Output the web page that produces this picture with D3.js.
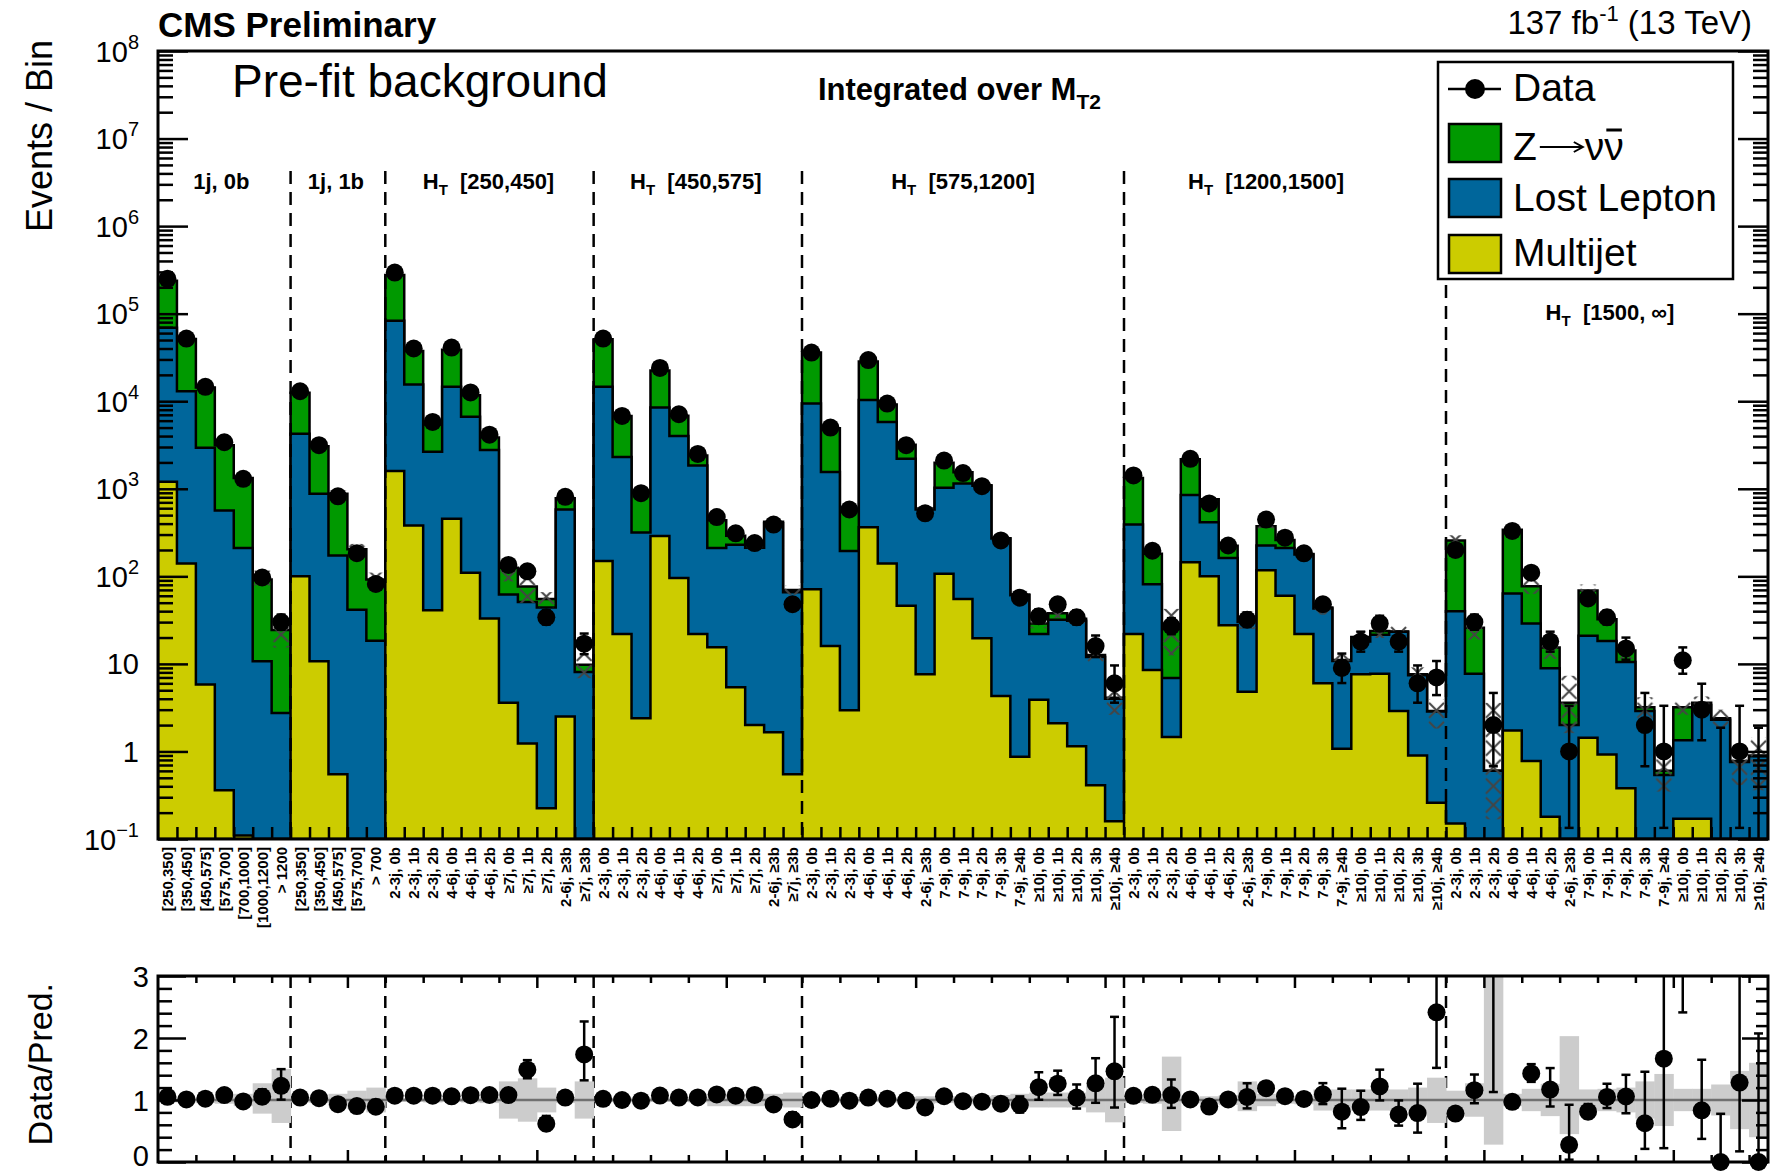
<!DOCTYPE html>
<html>
<head>
<meta charset="utf-8">
<script src="https://cdn.jsdelivr.net/npm/d3@7"></script>
<style>
  html, body { margin: 0; padding: 0; background: #fff; }
  svg { display: block; }
  text { font-family: "Liberation Sans", Arial, Helvetica, sans-serif; fill: #000; }
</style>
</head>
<body>
<svg id="chart" width="1777" height="1174"></svg>
<script>
// ---------------- search regions ----------------
const groupTitles = ["1j, 0b", "1j, 1b", "[250,450]", "[450,575]", "[575,1200]", "[1200,1500]", "[1500, \u221e]"];
const groupHasHT  = [false, false, true, true, true, true, true];
const groupSizes  = [7, 5, 11, 11, 17, 17, 17];

const monojetLabels0b = ["[250,350]", "[350,450]", "[450,575]", "[575,700]", "[700,1000]", "[1000,1200]", "> 1200"];
const monojetLabels1b = ["[250,350]", "[350,450]", "[450,575]", "[575,700]", "> 700"];
const lowHTLabels = ["2-3j, 0b", "2-3j, 1b", "2-3j, 2b", "4-6j, 0b", "4-6j, 1b", "4-6j, 2b",
                     "\u22657j, 0b", "\u22657j, 1b", "\u22657j, 2b", "2-6j, \u22653b", "\u22657j, \u22653b"];
const highHTLabels = ["2-3j, 0b", "2-3j, 1b", "2-3j, 2b", "4-6j, 0b", "4-6j, 1b", "4-6j, 2b", "2-6j, \u22653b",
                      "7-9j, 0b", "7-9j, 1b", "7-9j, 2b", "7-9j, 3b", "7-9j, \u22654b",
                      "\u226510j, 0b", "\u226510j, 1b", "\u226510j, 2b", "\u226510j, 3b", "\u226510j, \u22654b"];
const binLabels = [...monojetLabels0b, ...monojetLabels1b, ...lowHTLabels, ...lowHTLabels,
                   ...highHTLabels, ...highHTLabels, ...highHTLabels];

// ---------------- observed events per bin ----------------
const data = [
  250000, 52000, 14600, 3400, 1300, 97, 30,
  13000, 3150, 820, 184, 82,
  295000, 40000, 5800, 41000, 12600, 4150, 135, 114, 34, 810, 17,
  52000, 6800, 890, 24000, 7100, 2500, 475, 310, 240, 390, 48,
  36000, 5000, 580, 29500, 9400, 3150, 525, 2100, 1510, 1070, 257, 57, 35, 48, 34, 16, 6,
  1420, 196, 27, 2200, 680, 225, 32, 445, 276, 183, 48, 9, 18, 29, 18, 6, 7,
  200, 30, 2, 330, 110, 18, 1, 56, 34, 15, 2, 1, 11, 3, 0, 1, 0
];

// ---------------- pre-fit background estimates ----------------
const multijet = [
  1200, 140, 5.8, 0.36, 0.11, 0, 0,
  100, 10.7, 0.55, 0, 0,
  1600, 380, 41, 455, 110, 33, 3.6, 1.23, 0.225, 2.5, 0,
  150, 22, 2.4, 288, 96, 22, 15.5, 5.4, 2.0, 1.66, 0.55,
  71, 16, 2.95, 363, 140, 46, 7.6, 107, 55, 19.6, 4.3, 0.87, 3.9, 2.1, 1.15, 0.41, 0.16,
  22, 8.5, 1.46, 145, 100, 27.6, 4.8, 117, 60, 22, 6, 1.07, 7.6, 7.7, 2.9, 0.9, 0.26,
  0.15, 0, 0, 1.74, 0.78, 0.18, 0, 1.43, 0.92, 0.38, 0, 0, 0.17, 0.17, 0, 0, 0
];
const lostLepton = [
  67800, 12860, 2944, 565, 210, 10.7, 2.75,
  4150, 869, 172, 41.5, 18.4,
  81400, 15120, 2609, 14145, 6540, 2737, 58.4, 49.8, 43.8, 577.5, 8.1,
  14450, 2278, 313.6, 8212, 3904, 1818, 194.5, 224.6, 210, 403.3, 65.45,
  9329, 1534, 192, 9937, 5660, 2154, 572.4, 923, 1095, 1060.4, 265.7, 60.13, 18.1, 29.9, 29.85, 11.59, 3.84,
  368, 72.5, 5.44, 705, 315, 134.4, 25.2, 108, 150, 156, 37, 9.73, 10.4, 13.8, 20.4, 6.5, 2.59,
  39.85, 7.7, 0.6, 61.76, 28.22, 8.72, 2.0, 19.47, 17.38, 10.12, 2.9, 0.54, 1.17, 3.23, 2.3, 0.76, 0.88
];
const zinv = [
  169000, 38500, 11350, 2585, 1120, 81.3, 21.65,
  8250, 2180, 707, 162.5, 73.6,
  193000, 21900, 2770, 24100, 5050, 1070, 63, 25.5, 11, 200, 1.7,
  36400, 4500, 584, 13900, 2830, 560, 226, 60, 10, 15, 4,
  26600, 3350, 391, 18100, 3400, 980, 17, 950, 390, 20, 3, 1, 7, 6, 1.7, 0.6, 0.1,
  940, 100, 18.1, 1330, 345, 61, 0.5, 149, 50, 2, 1, 0.3, 2.3, 2.3, 0.2, 0.2, 0.05,
  216, 18.2, 0, 276.5, 48, 6.5, 1.6, 48.1, 14.1, 3.7, 0.3, 0.06, 1.86, 0.2, 0.1, 0.02, 0.02
];

// relative uncertainty on the total prediction (up / down)
const uncUp = [
  0.04, 0.04, 0.05, 0.06, 0.10, 0.27, 0.50,
  0.04, 0.05, 0.10, 0.15, 0.20,
  0.03, 0.03, 0.04, 0.03, 0.04, 0.05, 0.30, 0.35, 0.20, 0.05, 0.30,
  0.03, 0.03, 0.04, 0.03, 0.03, 0.04, 0.10, 0.10, 0.10, 0.10, 0.12,
  0.03, 0.04, 0.05, 0.03, 0.04, 0.05, 0.06, 0.05, 0.06, 0.06, 0.08, 0.10, 0.12, 0.12, 0.12, 0.25, 0.36,
  0.05, 0.06, 0.70, 0.05, 0.06, 0.08, 0.30, 0.10, 0.06, 0.07, 0.17, 0.17, 0.17, 0.17, 0.17, 0.20, 0.36,
  0.15, 0.27, 5.00, 0.10, 0.18, 0.26, 1.03, 0.17, 0.18, 0.20, 0.30, 0.42, 0.18, 0.18, 0.25, 0.47, 0.60
];
const uncDown = [
  0.04, 0.04, 0.05, 0.06, 0.10, 0.22, 0.37,
  0.04, 0.05, 0.10, 0.15, 0.20,
  0.03, 0.03, 0.04, 0.03, 0.04, 0.05, 0.30, 0.35, 0.20, 0.05, 0.30,
  0.03, 0.03, 0.04, 0.03, 0.03, 0.04, 0.10, 0.10, 0.10, 0.10, 0.12,
  0.03, 0.04, 0.05, 0.03, 0.04, 0.05, 0.06, 0.05, 0.06, 0.06, 0.08, 0.10, 0.12, 0.12, 0.12, 0.20, 0.36,
  0.05, 0.06, 0.50, 0.05, 0.06, 0.08, 0.18, 0.10, 0.06, 0.07, 0.17, 0.17, 0.17, 0.17, 0.17, 0.25, 0.37,
  0.26, 0.27, 0.72, 0.10, 0.18, 0.26, 0.55, 0.17, 0.18, 0.20, 0.30, 0.42, 0.18, 0.18, 0.25, 0.47, 0.60
];

const yMainTicks = [-1, 0, 1, 2, 3, 4, 5, 6, 7, 8];   // decades
const yRatioTicks = [0, 1, 2, 3];

// ---------------- layout ----------------
const nBins = binLabels.length;
const L = 158, R = 1768;
const mainTop = 51, mainBot = 839;
const ratTop = 976, ratBot = 1162;
const colors = { z: "#009900", ll: "#00669b", mj: "#cccc00" };
const lineW = 2.5;

const svg = d3.select("#chart");
const x  = d3.scaleLinear().domain([0, nBins]).range([L, R]);
const y  = d3.scaleLog().domain([0.1, 1e8]).range([mainBot, mainTop]);
const yr = d3.scaleLinear().domain([0, 3]).range([ratBot, ratTop]);
const yc = v => (v <= 0.1 ? mainBot : Math.max(mainTop, y(v)));
const bw = x(1) - x(0);

const defs = svg.append("defs");
defs.append("clipPath").attr("id", "clipMain")
  .append("rect").attr("x", L).attr("y", mainTop).attr("width", R - L).attr("height", mainBot - mainTop);
defs.append("clipPath").attr("id", "clipRatio")
  .append("rect").attr("x", L).attr("y", ratTop).attr("width", R - L).attr("height", ratBot - ratTop);
const hatch = defs.append("pattern").attr("id", "hatch").attr("patternUnits", "userSpaceOnUse")
  .attr("x", L).attr("y", 0).attr("width", bw).attr("height", bw);
hatch.append("path").attr("d", `M2,2L${bw - 2},${bw - 2}M2,${bw - 2}L${bw - 2},2`)
  .attr("stroke", "#444").attr("stroke-width", 2).attr("fill", "none");

// cumulative stack levels
const bins = d3.range(nBins).map(i => {
  const mj = multijet[i], ll = mj + lostLepton[i], tot = ll + zinv[i];
  return { i, mj, ll, tot, d: data[i] };
});

// ---------------- main panel ----------------
const gMain = svg.append("g").attr("clip-path", "url(#clipMain)");
const stepLine = d3.line();
function stepPath(key) {
  const pts = [[x(0), mainBot]];
  bins.forEach(b => { pts.push([x(b.i), yc(b[key])]); pts.push([x(b.i + 1), yc(b[key])]); });
  pts.push([x(nBins), mainBot]);
  return stepLine(pts) + "Z";
}
[["tot", colors.z], ["ll", colors.ll], ["mj", colors.mj]].forEach(([k, c]) => {
  gMain.append("path").attr("d", stepPath(k)).attr("fill", c)
    .attr("stroke", "#000").attr("stroke-width", lineW).attr("stroke-linejoin", "miter");
});

// prediction uncertainty (cross-hatched)
gMain.selectAll("rect.unc").data(bins).join("rect").attr("class", "unc")
  .attr("x", b => x(b.i)).attr("width", bw)
  .attr("y", b => yc(b.tot * (1 + uncUp[b.i])))
  .attr("height", b => yc(b.tot * (1 - uncDown[b.i])) - yc(b.tot * (1 + uncUp[b.i])))
  .attr("fill", "url(#hatch)");

// separators between regions
const bounds = d3.cumsum(groupSizes).slice(0, -1);
bounds.forEach((bnd, k) => {
  const top = k === bounds.length - 1 ? 285 : 171;
  svg.append("line").attr("x1", x(bnd)).attr("x2", x(bnd)).attr("y1", top).attr("y2", mainBot)
    .attr("stroke", "#000").attr("stroke-width", 2.5).attr("stroke-dasharray", "13,8");
  svg.append("line").attr("x1", x(bnd)).attr("x2", x(bnd)).attr("y1", ratTop).attr("y2", ratBot)
    .attr("stroke", "#000").attr("stroke-width", 2.5).attr("stroke-dasharray", "12,8");
});

// Poisson-style error bars for observed counts
const errLo = n => (n > 0 ? Math.sqrt(n - 0.25) : 0);
const errHi = n => Math.sqrt(n + 0.75) + 1;
const capW = 4.5, dotR = 9;

const gData = svg.append("g").attr("clip-path", "url(#clipMain)");
bins.forEach(b => {
  const cx = x(b.i + 0.5);
  const yHi = yc(b.d + errHi(b.d)), yLo = yc(b.d - errLo(b.d));
  gData.append("line").attr("x1", cx).attr("x2", cx).attr("y1", yHi).attr("y2", yLo)
    .attr("stroke", "#000").attr("stroke-width", lineW);
  gData.append("line").attr("x1", cx - capW).attr("x2", cx + capW).attr("y1", yHi).attr("y2", yHi)
    .attr("stroke", "#000").attr("stroke-width", lineW);
  if (b.d > 0) {
    if (yLo < mainBot - 1) gData.append("line").attr("x1", cx - capW).attr("x2", cx + capW)
      .attr("y1", yLo).attr("y2", yLo).attr("stroke", "#000").attr("stroke-width", lineW);
    gData.append("circle").attr("cx", cx).attr("cy", y(b.d)).attr("r", dotR).attr("fill", "#000");
  }
});

// ---------------- ratio panel ----------------
const gRat = svg.append("g").attr("clip-path", "url(#clipRatio)");
gRat.selectAll("rect.band").data(bins).join("rect").attr("class", "band")
  .attr("x", b => x(b.i)).attr("width", bw + 0.5)
  .attr("y", b => yr(1 + uncUp[b.i])).attr("height", b => yr(1 - uncDown[b.i]) - yr(1 + uncUp[b.i]))
  .attr("fill", "#cccccc");
gRat.append("line").attr("x1", L).attr("x2", R).attr("y1", yr(1)).attr("y2", yr(1))
  .attr("stroke", "#707070").attr("stroke-width", 2.5);

const gRatPts = svg.append("g");
bins.forEach(b => {
  const cx = x(b.i + 0.5);
  const r = b.d / b.tot;
  const hi = Math.min(3, r + errHi(b.d) / b.tot), lo = Math.max(0, r - errLo(b.d) / b.tot);
  if (lo < 3) {
    gRatPts.append("line").attr("x1", cx).attr("x2", cx).attr("y1", yr(hi)).attr("y2", yr(lo))
      .attr("stroke", "#000").attr("stroke-width", lineW);
    if (hi < 3) gRatPts.append("line").attr("x1", cx - capW).attr("x2", cx + capW)
      .attr("y1", yr(hi)).attr("y2", yr(hi)).attr("stroke", "#000").attr("stroke-width", lineW);
    if (lo > 0) gRatPts.append("line").attr("x1", cx - capW).attr("x2", cx + capW)
      .attr("y1", yr(lo)).attr("y2", yr(lo)).attr("stroke", "#000").attr("stroke-width", lineW);
  }
  if (r <= 3) gRatPts.append("circle").attr("cx", cx).attr("cy", yr(r)).attr("r", dotR).attr("fill", "#000");
});

// ---------------- axes ----------------
function styleAxis(g) {
  g.select(".domain").remove();
  g.selectAll(".tick line").attr("stroke", "#000").attr("stroke-width", 2.5);
  g.selectAll(".tick text").remove();
}
const majorMain = yMainTicks.map(e => Math.pow(10, e));
const minorMain = [];
yMainTicks.slice(0, -1).forEach(e => { for (let m = 2; m <= 9; m++) minorMain.push(m * Math.pow(10, e)); });

svg.append("g").attr("transform", `translate(${L},0)`).call(d3.axisLeft(y).tickValues(majorMain).tickSize(-30)).call(styleAxis);
svg.append("g").attr("transform", `translate(${L},0)`).call(d3.axisLeft(y).tickValues(minorMain).tickSize(-15)).call(styleAxis);
svg.append("g").attr("transform", `translate(${R},0)`).call(d3.axisRight(y).tickValues(majorMain).tickSize(-30)).call(styleAxis);
svg.append("g").attr("transform", `translate(${R},0)`).call(d3.axisRight(y).tickValues(minorMain).tickSize(-15)).call(styleAxis);
svg.append("g").attr("transform", `translate(0,${mainBot})`)
  .call(d3.axisBottom(x).tickValues(d3.range(1, nBins)).tickSize(-12)).call(styleAxis);

const minorRat = d3.range(1, 15).map(k => k * 0.2).filter(v => Math.abs(v - Math.round(v)) > 1e-6);
svg.append("g").attr("transform", `translate(${L},0)`).call(d3.axisLeft(yr).tickValues(yRatioTicks).tickSize(-28)).call(styleAxis);
svg.append("g").attr("transform", `translate(${L},0)`).call(d3.axisLeft(yr).tickValues(minorRat).tickSize(-14)).call(styleAxis);
svg.append("g").attr("transform", `translate(${R},0)`).call(d3.axisRight(yr).tickValues(yRatioTicks).tickSize(-26)).call(styleAxis);
svg.append("g").attr("transform", `translate(${R},0)`).call(d3.axisRight(yr).tickValues(minorRat).tickSize(-12)).call(styleAxis);
const xMajR = d3.range(10, nBins, 10), xMinR = d3.range(2, nBins, 2).filter(v => v % 10 !== 0);
[[ratTop, d3.axisTop], [ratBot, d3.axisBottom]].forEach(([yy, ax]) => {
  svg.append("g").attr("transform", `translate(0,${yy})`).call(ax(x).tickValues(xMajR).tickSize(-12)).call(styleAxis);
  svg.append("g").attr("transform", `translate(0,${yy})`).call(ax(x).tickValues(xMinR).tickSize(-7)).call(styleAxis);
});

// frames
[[mainTop, mainBot], [ratTop, ratBot]].forEach(([t, bt]) => {
  svg.append("rect").attr("x", L).attr("y", t).attr("width", R - L).attr("height", bt - t)
    .attr("fill", "none").attr("stroke", "#000").attr("stroke-width", 3);
});

// y tick labels
yMainTicks.forEach(e => {
  const t = svg.append("text").attr("x", 139).attr("y", y(Math.pow(10, e)) + 10.5)
    .attr("text-anchor", "end").attr("font-size", 29);
  if (e === 0) t.text("1");
  else if (e === 1) t.text("10");
  else {
    t.append("tspan").text("10");
    t.append("tspan").attr("dy", -13).attr("font-size", 20).text(e < 0 ? "\u2212" + (-e) : String(e));
  }
});
yRatioTicks.forEach(v => {
  svg.append("text").attr("x", 149).attr("y", Math.min(yr(v) + 10.5, 1166)).attr("text-anchor", "end")
    .attr("font-size", 29).text(v);
});

// axis titles
svg.append("text").attr("transform", "translate(52,40) rotate(-90)").attr("text-anchor", "end")
  .attr("font-size", 36).text("Events / Bin");
svg.append("text").attr("transform", "translate(52,983) rotate(-90)").attr("text-anchor", "end")
  .attr("font-size", 34).text("Data/Pred.");

// bin labels
svg.selectAll("text.bin").data(binLabels).join("text").attr("class", "bin")
  .attr("transform", (d, i) => `translate(${x(i + 0.5) + 5.5},847) rotate(-90)`)
  .attr("text-anchor", "end").attr("font-size", 15).attr("font-weight", "bold").text(d => d);

// region titles
const starts = [0, ...bounds];
const titleNudge = [-3, -2, -1, -2, 0, -19, 3];
groupTitles.forEach((g, k) => {
  const cx = x(starts[k] + groupSizes[k] / 2) + titleNudge[k];
  const t = svg.append("text").attr("x", cx).attr("y", k === 6 ? 320 : 189)
    .attr("text-anchor", "middle").attr("font-size", 22).attr("font-weight", "bold");
  if (groupHasHT[k]) {
    t.append("tspan").text("H");
    t.append("tspan").attr("font-size", 15).attr("dy", 6).text("T");
    t.append("tspan").attr("dy", -6).text("\u00a0\u00a0" + g);
  } else t.text(g);
});

// header texts
svg.append("text").attr("x", L).attr("y", 37).attr("font-size", 35).attr("font-weight", "bold").text("CMS Preliminary");
const lumi = svg.append("text").attr("x", 1752).attr("y", 34).attr("text-anchor", "end").attr("font-size", 33);
lumi.append("tspan").text("137 fb");
lumi.append("tspan").attr("dy", -13).attr("font-size", 22).text("-1");
lumi.append("tspan").attr("dy", 13).text(" (13 TeV)");
svg.append("text").attr("x", 232).attr("y", 97).attr("font-size", 46).text("Pre-fit background");
const integ = svg.append("text").attr("x", 818).attr("y", 100).attr("font-size", 31).attr("font-weight", "bold");
integ.append("tspan").text("Integrated over M");
integ.append("tspan").attr("dy", 9).attr("font-size", 21).text("T2");

// legend
const lg = svg.append("g");
lg.append("rect").attr("x", 1438).attr("y", 62).attr("width", 295).attr("height", 217)
  .attr("fill", "#fff").attr("stroke", "#000").attr("stroke-width", 2.5);
lg.append("line").attr("x1", 1448).attr("x2", 1501).attr("y1", 89).attr("y2", 89).attr("stroke", "#000").attr("stroke-width", 2.5);
lg.append("circle").attr("cx", 1475).attr("cy", 89).attr("r", 10).attr("fill", "#000");
const legendEntries = [
  { y: 124, c: colors.z }, { y: 179, c: colors.ll }, { y: 235, c: colors.mj }
];
legendEntries.forEach(e => lg.append("rect").attr("x", 1449).attr("y", e.y).attr("width", 52).attr("height", 38)
  .attr("fill", e.c).attr("stroke", "#000").attr("stroke-width", 2.5));
const lfs = 39;
lg.append("text").attr("x", 1513).attr("y", 101).attr("font-size", lfs).text("Data");
lg.append("text").attr("x", 1513).attr("y", 211).attr("font-size", lfs).text("Lost Lepton");
lg.append("text").attr("x", 1513).attr("y", 266).attr("font-size", lfs).text("Multijet");

// Z -> nu nubar, with a drawn arrow and bar
const zBase = 160;
const zText = lg.append("text").attr("x", 1513).attr("y", zBase).attr("font-size", lfs).text("Z");
const zEnd = 1513 + zText.node().getComputedTextLength();
const arrowY = zBase - 13;
const arrowEnd = zEnd + 46;
lg.append("line").attr("x1", zEnd + 3).attr("x2", arrowEnd).attr("y1", arrowY).attr("y2", arrowY)
  .attr("stroke", "#000").attr("stroke-width", 2);
lg.append("path").attr("d", `M${arrowEnd - 9},${arrowY - 5}L${arrowEnd},${arrowY}L${arrowEnd - 9},${arrowY + 5}`)
  .attr("fill", "none").attr("stroke", "#000").attr("stroke-width", 2);
const nu1 = lg.append("text").attr("x", arrowEnd + 2).attr("y", zBase).attr("font-size", lfs).text("\u03bd");
const nuW = nu1.node().getComputedTextLength();
lg.append("text").attr("x", arrowEnd + 2 + nuW).attr("y", zBase).attr("font-size", lfs).text("\u03bd");
lg.append("line").attr("x1", arrowEnd + 4 + nuW).attr("x2", arrowEnd + nuW * 2)
  .attr("y1", zBase - 30).attr("y2", zBase - 30).attr("stroke", "#000").attr("stroke-width", 3);
</script>
</body>
</html>
